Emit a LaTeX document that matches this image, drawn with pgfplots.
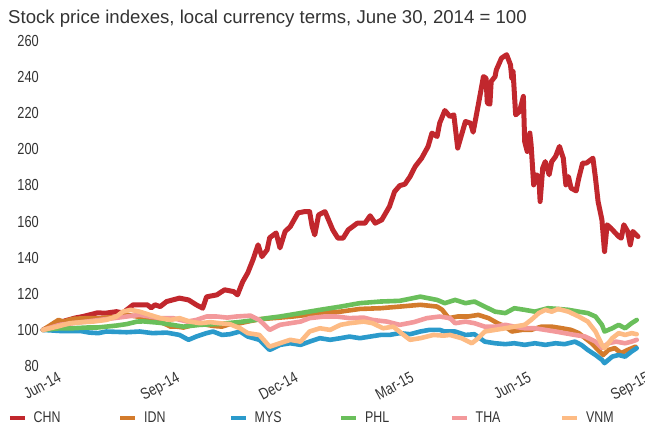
\documentclass[border=0pt]{standalone}
\usepackage{fontspec}
\setmainfont{Liberation Sans}
\newfontfamily\cond[FakeStretch=0.8]{Liberation Sans}
\usepackage{pgfplots}
\pgfplotsset{compat=1.18}
\definecolor{cCHN}{HTML}{C1272D}
\definecolor{cIDN}{HTML}{D37B2C}
\definecolor{cMYS}{HTML}{2B9ACB}
\definecolor{cPHL}{HTML}{6ABF5B}
\definecolor{cTHA}{HTML}{F3999B}
\definecolor{cVNM}{HTML}{FDBB84}
\definecolor{txt}{HTML}{333333}
\newcommand{\legtxt}[1]{\makebox[92pt][l]{\hspace*{7pt}#1}}
\begin{document}
\begin{tikzpicture}
\path[use as bounding box] (-43pt,-59pt) rectangle (602pt,366pt);
\begin{axis}[
  scale only axis, width=595pt, height=325pt,
  xmin=0, xmax=462, ymin=80, ymax=260,
  clip=false,
  axis line style={draw=none},
  major tick length=0pt,
  ytick={80,100,...,260},
  xtick={0,92,184,274,365,457},
  xticklabels={Jun-14,Sep-14,Dec-14,Mar-15,Jun-15,Sep-15},
  /pgf/number format/assume math mode=true,
  ticklabel style={font=\cond\fontsize{16}{16}\selectfont, text=txt},
  yticklabel style={inner sep=0pt, xshift=-4pt},
  xticklabel style={inner sep=0pt, xshift=14pt, yshift=-5pt, rotate=28, anchor=north east},
  every axis plot/.append style={line width=4.6pt, line join=round, line cap=round},
  legend columns=6,
  legend style={draw=none, fill=none, inner sep=0pt, at={(axis description cs:-0.0588,-0.1600)}, anchor=west,
    nodes={inner sep=0pt, font=\cond\fontsize{15.5}{16}\selectfont, text=txt}},
  legend image code/.code={\draw[#1, line width=3.5pt, line cap=butt] (0pt,0pt) -- (15pt,0pt);},
]
% CHN
\addplot[cCHN, line width=5pt] coordinates {
(0,100) (9,102.8) (17,105.0) (25,106.6) (31,107.4) (42,109.4) (49,109.3) (57,110.1) (62,109.4)
(70,113.9) (81,113.9) (84,112.2) (87,113.9) (91,112.9) (96,115.7) (106,117.6) (113,116.6)
(119,113.9) (124,112.0) (127,118.3) (135,119.4) (141,122.2) (148,121.2) (151,119.4) (155,126.6)
(159,131.6) (163,138.8) (167,147.1) (170,140.6) (174,144.3) (176,151.0) (181,153.7) (184,145.4)
(188,154.5) (192,157.2) (198,164.8) (203,165.5) (207,165.5) (209,157.2) (211,152.6) (214,163.7)
(219,165.5) (225,155.4) (229,150.8) (233,150.8) (237,155.4) (244,159.1) (250,159.1) (254,163.2)
(258,159.1) (263,160.9) (269,168.3) (273,176.6) (277,179.9) (281,180.7) (285,184.9) (289,190.5)
(294,195.1) (299,201.6) (302,209.0) (306,207.1) (308,214.5) (312,221.5) (316,218.2) (319,219.1)
(322,200.7) (328,215.4) (332,214.5) (334,209.5) (338,224.7) (342,240.3) (344,239.4) (345,225.6)
(347,225.0) (348,237.6) (351,240.3) (352,244.0) (356,250.5) (360,252.4) (363,246.8) (364,239.4)
(365,243.1) (367,219.1) (370,220.9) (373,229.3) (374,204.3) (376,198.8) (378,209.0) (379,202.5)
(381,180.3) (383,185.9) (385,184.9) (386,171.1) (388,189.6) (390,193.2) (393,185.9) (395,193.2)
(398,196.0) (401,201.6) (404,195.1) (406,180.3) (408,184.9) (410,178.5) (414,177.0) (416,184.0)
(419,192.4) (422,192.4) (427,195.1) (429,184.0) (431,171.1) (434,160.9) (436,143.4) (438,158.2)
(441,156.3) (447,151.7) (449,150.8) (451,158.2) (454,154.5) (456,147.1) (458,154.5) (462,151.7)
};
\addlegendentry{\legtxt{CHN}}
% IDN
\addplot[cIDN] coordinates {
(0,100) (12,105.5) (16,104.6) (23,106.1) (34,106.5) (44,106.5) (60,107.4) (65,108.3) (73,107.4)
(81,105.5) (91,104.6) (99,101.8) (104,101.8) (109,101.3) (117,102.8) (124,103.2) (132,102.2)
(139,101.8) (145,103.2) (153,103.7) (159,104.6) (168,105.9) (179,106.5) (194,107.4) (205,108.3)
(215,109.3) (231,110.1) (246,111.6) (262,112.0) (277,112.9) (293,113.9) (306,112.9) (310,111.1)
(315,106.5) (322,107.4) (330,107.4) (338,108.3) (346,106.5) (353,103.7) (359,101.8) (364,99.1)
(372,100) (379,100) (387,101.8) (395,101.8) (403,100.9) (410,100) (416,98.2) (421,95.4)
(426,92.6) (431,88.9) (435,86.1) (439,88.9) (444,89.9) (449,87.1) (454,88.9) (460,90.7)
};
\addlegendentry{\legtxt{IDN}}
% MYS
\addplot[cMYS] coordinates {
(0,100) (13,99.4) (29,99.4) (36,98.5) (43,98.2) (49,99.1) (65,98.7) (75,99.1) (85,98.2) (96,98.5)
(106,97.2) (113,94.5) (119,96.3) (127,98.2) (132,99.1) (139,97.2) (145,97.6) (153,99.1) (159,96.3)
(168,94.5) (176,88.9) (179,89.9) (184,91.7) (192,92.6) (200,91.7) (207,93.5) (215,95.4) (223,94.5)
(231,95.4) (238,96.3) (246,95.4) (254,96.3) (262,97.2) (269,97.2) (277,98.2) (285,97.6) (293,99.1)
(300,100) (308,100) (312,99.1) (320,99.1) (328,97.2) (335,97.6) (343,93.5) (351,92.6) (359,92.1)
(366,92.6) (374,91.7) (382,92.6) (390,91.7) (398,92.6) (405,92.1) (413,93.5) (418,91.7) (423,88.9)
(429,86.1) (434,83.4) (436,81.6) (442,85.2) (447,86.1) (452,85.2) (457,88.0) (461,89.9)
};
\addlegendentry{\legtxt{MYS}}
% PHL
\addplot[cPHL] coordinates {
(0,100) (13,100.9) (23,100.9) (34,101.3) (42,101.3) (49,101.8) (57,102.4) (65,103.2) (73,104.6)
(78,104.7) (91,103.9) (109,101.8) (122,102.8) (137,103.3) (153,104.4) (165,105.5) (174,106.5)
(184,107.4) (200,109.3) (215,111.1) (231,112.9) (246,114.8) (262,115.7) (277,116.1) (293,118.4)
(306,116.6) (312,114.8) (320,116.6) (328,114.8) (335,115.7) (343,112.9) (351,110.1) (359,109.3)
(366,112.0) (374,111.1) (382,110.1) (392,112.0) (400,111.6) (408,111.1) (416,110.1) (423,109.3)
(429,107.4) (434,102.8) (436,99.1) (442,100.9) (447,102.8) (452,100.9) (457,103.7) (461,105.5)
};
\addlegendentry{\legtxt{PHL}}
% THA
\addplot[cTHA] coordinates {
(0,100) (13,102.8) (23,103.7) (34,104.6) (44,105.5) (55,106.5) (65,107.4) (75,108.3) (83,107.4)
(91,106.5) (101,106.5) (112,104.6) (119,105.5) (127,107.4) (135,107.4) (143,106.8) (150,107.4)
(161,107.9) (168,105.5) (176,100) (184,102.8) (192,103.7) (200,104.6) (207,106.5) (218,107.4)
(228,107.4) (238,106.5) (249,106.8) (256,105.5) (267,104.6) (277,102.8) (288,104.3) (298,106.5)
(308,107.4) (316,106.5) (320,103.7) (328,104.6) (335,103.7) (343,101.8) (351,101.8) (359,102.8)
(366,101.8) (374,100.9) (382,100.9) (390,100) (398,99.1) (405,98.2) (413,97.2) (421,96.3)
(429,93.5) (434,89.9) (439,92.6) (445,93.5) (452,92.6) (457,93.5) (461,94.5)
};
\addlegendentry{\legtxt{THA}}
% VNM
\addplot[cVNM] coordinates {
(0,100) (11,101.8) (21,103.7) (31,104.3) (39,104.6) (49,105.5) (57,107.4) (62,110.1) (68,111.1)
(75,110.1) (83,108.3) (91,106.5) (99,105.5) (106,106.5) (114,104.6) (122,103.7) (130,104.3)
(137,103.7) (145,103.2) (153,100.9) (159,98.2) (168,97.2) (176,90.7) (184,92.6) (192,94.5)
(200,93.5) (207,99.1) (215,100.9) (223,100) (231,102.8) (238,103.7) (249,104.6) (256,103.7)
(264,100.9) (272,101.8) (280,97.2) (285,94.5) (293,95.4) (303,97.2) (311,96.8) (316,97.2)
(325,95.4) (333,92.6) (338,95.4) (343,99.1) (351,100) (359,100.9) (366,101.8) (374,102.8)
(379,105.5) (385,109.3) (390,111.1) (395,110.1) (400,111.6) (408,110.1) (416,107.4) (423,104.6)
(429,99.1) (434,91.7) (436,89.9) (442,95.4) (447,98.2) (452,97.2) (457,98.2) (461,97.6)
};
\addlegendentry{\legtxt{VNM}}
\end{axis}
\node[anchor=base west, inner sep=0pt, text=txt, font=\fontsize{18.6}{20}\selectfont] at (-35pt,342pt)
  {Stock price indexes, local currency terms, June 30, 2014 = 100};
\end{tikzpicture}
\end{document}
